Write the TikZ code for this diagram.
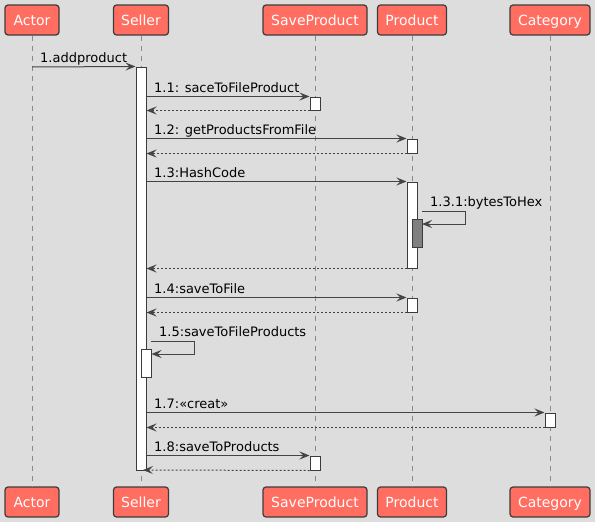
\documentclass[tikz,border=0pt]{standalone}
\usepackage{fontspec}
\setmainfont{DejaVu Sans}
\usetikzlibrary{arrows.meta}
\definecolor{bg}{HTML}{DDDDDD}
\definecolor{partfill}{HTML}{FF6E61}
\definecolor{partline}{HTML}{3C3C3C}
\definecolor{arr}{HTML}{444444}
\definecolor{life}{HTML}{8A8A8A}
\definecolor{nested}{HTML}{808080}
\tikzset{
  part/.style={draw=partline, fill=partfill, line width=1.2pt, rounded corners=3pt,
    minimum height=30pt, inner sep=0pt, text=white, font=\fontsize{14}{16}\selectfont,
    text height=12.5pt, text depth=1.5pt},
  lifeline/.style={draw=life, line width=0.8pt, dash pattern=on 5pt off 5pt},
  actbox/.style={draw=partline, fill=white, line width=1pt, inner sep=0pt, minimum width=10pt},
  msg/.style={draw=arr, line width=1pt, -{Stealth[length=10pt,width=8pt,inset=4pt]}},
  ret/.style={msg, dash pattern=on 2pt off 2pt},
  lbl/.style={anchor=base west, inner sep=0pt, font=\fontsize{13}{15}\selectfont},
}
\begin{document}
\begin{tikzpicture}[x=1pt,y=-1pt]
\path[use as bounding box, fill=bg] (0,0) rectangle (595,522);
% participants
\node[part, minimum width=54pt]  (actT) at (32,20) {Actor};
\node[part, minimum width=55pt]  (selT) at (141,20) {Seller};
\node[part, minimum width=104pt] (savT) at (315,20) {SaveProduct};
\node[part, minimum width=69pt]  (proT) at (412,20) {Product};
\node[part, minimum width=80pt]  (catT) at (550,20) {Category};
\node[part, minimum width=54pt]  (actB) at (32,502) {Actor};
\node[part, minimum width=55pt]  (selB) at (141,502) {Seller};
\node[part, minimum width=104pt] (savB) at (315,502) {SaveProduct};
\node[part, minimum width=69pt]  (proB) at (412,502) {Product};
\node[part, minimum width=80pt]  (catB) at (550,502) {Category};
% lifelines
\draw[lifeline] (actT.south) -- (actB.north);
\draw[lifeline] (selT.south) -- (selB.north);
\draw[lifeline] (savT.south) -- (savB.north);
\draw[lifeline] (proT.south) -- (proB.north);
\draw[lifeline] (catT.south) -- (catB.north);
% activations
\node[actbox, minimum height=403pt] (sAct) at (141,268.5) {};
\node[actbox, minimum height=13pt] (a1) at (315,103.5) {};
\node[actbox, minimum height=14pt] (a2) at (412,146) {};
\node[actbox, minimum height=86pt] (a3) at (412,225) {};
\node[actbox, fill=nested, minimum height=28pt] (a31) at (417,233) {};
\node[actbox, minimum height=14pt] (a4) at (412,305) {};
\node[actbox, minimum height=28pt] (a5) at (146,363) {};
\node[actbox, minimum height=14pt] (a7) at (550,420) {};
\node[actbox, minimum height=14pt] (a8) at (315,463) {};
% 1
\coordinate (m1) at (32,67);
\draw[msg] (m1) -- (sAct.north west);
\node[lbl] (l1) at (40,62) {1.addproduct};
% 1.1
\draw[msg] (sAct.east |- a1.north) -- (a1.north west);
\draw[ret] (a1.south west) -- (sAct.east |- a1.south);
\node[lbl] (l11) at (154,92) {1.1: saceToFileProduct};
% 1.2
\draw[msg] (sAct.east |- a2.north) -- (a2.north west);
\draw[ret] (a2.south west) -- (sAct.east |- a2.south);
\node[lbl] (l12) at (154,134) {1.2: getProductsFromFile};
% 1.3
\draw[msg] (sAct.east |- a3.north) -- (a3.north west);
\draw[ret] (a3.south west) -- (sAct.east |- a3.south);
\node[lbl] (l13) at (154,177) {1.3:HashCode};
% 1.3.1
\coordinate (s131) at (422,211);
\coordinate (t131) at (422,224);
\draw[msg] (s131) -- ++(43,0) -- ++(0,13) -- (t131);
\node[lbl] (l131) at (430,206) {1.3.1:bytesToHex};
% 1.4
\draw[msg] (sAct.east |- a4.north) -- (a4.north west);
\draw[ret] (a4.south west) -- (sAct.east |- a4.south);
\node[lbl] (l14) at (154,293) {1.4:saveToFile};
% 1.5
\coordinate (s15) at (151,341);
\coordinate (t15) at (151.5,354);
\draw[msg] (s15) -- ++(43,0) -- ++(0,13) -- (t15);
\node[lbl] (l15) at (159,336) {1.5:saveToFileProducts};
% 1.7
\draw[msg] (sAct.east |- a7.north) -- (a7.north west);
\draw[ret] (a7.south west) -- (sAct.east |- a7.south);
\node[lbl] (l17) at (154,408) {1.7:«creat»};
% 1.8
\coordinate (r18) at (143,470);
\draw[msg] (sAct.east |- a8.north) -- (a8.north west);
\draw[ret] (a8.south west) -- (r18);
\node[lbl] (l18) at (154,451) {1.8:saveToProducts};
\end{tikzpicture}
\end{document}
